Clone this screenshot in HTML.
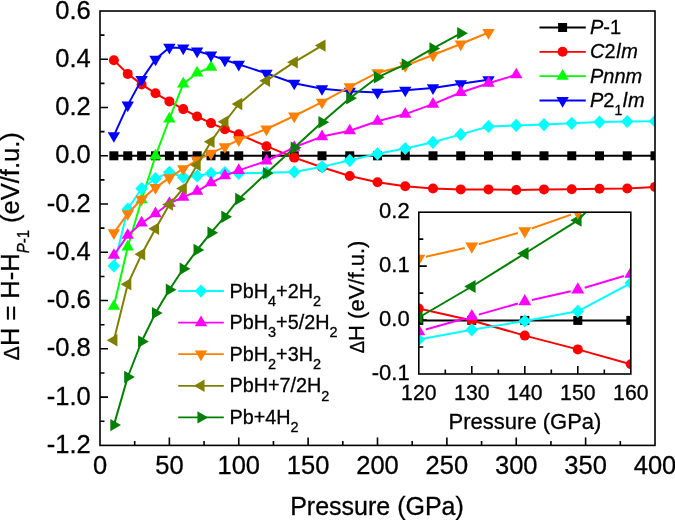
<!DOCTYPE html>
<html><head><meta charset="utf-8"><style>
html,body{margin:0;padding:0;background:#fff;width:675px;height:520px;overflow:hidden}
svg{display:block;will-change:transform;filter:blur(0.3px)}
text{font-family:"Liberation Sans",sans-serif;stroke:#000;stroke-width:0.3px}
</style></head><body>
<svg width="675" height="520" viewBox="0 0 675 520" font-family="Liberation Sans, sans-serif">
<rect width="675" height="520" fill="#fff"/>
<defs><clipPath id="cm"><rect x="100" y="11" width="555" height="434.4"/></clipPath><clipPath id="ci"><rect x="418.8" y="212.2" width="212" height="161.8"/></clipPath></defs>
<path d="M100 35.13h4.5M100 59.26h8M100 83.39h4.5M100 107.52h8M100 131.65h4.5M100 155.78h8M100 179.91h4.5M100 204.04h8M100 228.17h4.5M100 252.30h8M100 276.43h4.5M100 300.56h8M100 324.69h4.5M100 348.82h8M100 372.95h4.5M100 397.08h8M100 421.21h4.5M134.69 445.4v-4.5M169.38 445.4v-8M204.06 445.4v-4.5M238.75 445.4v-8M273.44 445.4v-4.5M308.12 445.4v-8M342.81 445.4v-4.5M377.50 445.4v-8M412.19 445.4v-4.5M446.88 445.4v-8M481.56 445.4v-4.5M516.25 445.4v-8M550.94 445.4v-4.5M585.62 445.4v-8M620.31 445.4v-4.5" stroke="#000" stroke-width="1.6" fill="none"/>
<g clip-path="url(#cm)">
<path d="M113.88 155.80L127.75 155.80L141.62 155.80L155.50 155.80L169.38 155.80L183.25 155.80L197.12 155.80L211.00 155.80L224.88 155.80L238.75 155.80L266.50 155.80L294.25 155.80L322.00 155.80L349.75 155.80L377.50 155.80L405.25 155.80L433.00 155.80L460.75 155.80L488.50 155.80L516.25 155.80L544.00 155.80L571.75 155.80L599.50 155.80L627.25 155.80L655.00 155.80" fill="none" stroke="#000000" stroke-width="2.0" stroke-linejoin="round"/>
<rect x="109.38" y="151.30" width="9.00" height="9.00" fill="#000000"/>
<rect x="123.25" y="151.30" width="9.00" height="9.00" fill="#000000"/>
<rect x="137.12" y="151.30" width="9.00" height="9.00" fill="#000000"/>
<rect x="151.00" y="151.30" width="9.00" height="9.00" fill="#000000"/>
<rect x="164.88" y="151.30" width="9.00" height="9.00" fill="#000000"/>
<rect x="178.75" y="151.30" width="9.00" height="9.00" fill="#000000"/>
<rect x="192.62" y="151.30" width="9.00" height="9.00" fill="#000000"/>
<rect x="206.50" y="151.30" width="9.00" height="9.00" fill="#000000"/>
<rect x="220.38" y="151.30" width="9.00" height="9.00" fill="#000000"/>
<rect x="234.25" y="151.30" width="9.00" height="9.00" fill="#000000"/>
<rect x="262.00" y="151.30" width="9.00" height="9.00" fill="#000000"/>
<rect x="289.75" y="151.30" width="9.00" height="9.00" fill="#000000"/>
<rect x="317.50" y="151.30" width="9.00" height="9.00" fill="#000000"/>
<rect x="345.25" y="151.30" width="9.00" height="9.00" fill="#000000"/>
<rect x="373.00" y="151.30" width="9.00" height="9.00" fill="#000000"/>
<rect x="400.75" y="151.30" width="9.00" height="9.00" fill="#000000"/>
<rect x="428.50" y="151.30" width="9.00" height="9.00" fill="#000000"/>
<rect x="456.25" y="151.30" width="9.00" height="9.00" fill="#000000"/>
<rect x="484.00" y="151.30" width="9.00" height="9.00" fill="#000000"/>
<rect x="511.75" y="151.30" width="9.00" height="9.00" fill="#000000"/>
<rect x="539.50" y="151.30" width="9.00" height="9.00" fill="#000000"/>
<rect x="567.25" y="151.30" width="9.00" height="9.00" fill="#000000"/>
<rect x="595.00" y="151.30" width="9.00" height="9.00" fill="#000000"/>
<rect x="622.75" y="151.30" width="9.00" height="9.00" fill="#000000"/>
<rect x="650.50" y="151.30" width="9.00" height="9.00" fill="#000000"/>
<path d="M113.88 60.20L127.75 73.90L141.62 84.40L155.50 93.30L169.38 101.40L183.25 109.10L197.12 116.50L211.00 123.10L224.88 129.20L238.75 134.20L266.50 146.20L294.25 157.60L322.00 167.30L349.75 176.00L377.50 182.30L405.25 186.20L433.00 188.50L460.75 189.40L488.50 189.40L516.25 190.00L544.00 189.40L571.75 189.20L599.50 188.80L627.25 188.50L655.00 186.90" fill="none" stroke="#ff0000" stroke-width="2.0" stroke-linejoin="round"/>
<circle cx="113.88" cy="60.20" r="5" fill="#ff0000"/>
<circle cx="127.75" cy="73.90" r="5" fill="#ff0000"/>
<circle cx="141.62" cy="84.40" r="5" fill="#ff0000"/>
<circle cx="155.50" cy="93.30" r="5" fill="#ff0000"/>
<circle cx="169.38" cy="101.40" r="5" fill="#ff0000"/>
<circle cx="183.25" cy="109.10" r="5" fill="#ff0000"/>
<circle cx="197.12" cy="116.50" r="5" fill="#ff0000"/>
<circle cx="211.00" cy="123.10" r="5" fill="#ff0000"/>
<circle cx="224.88" cy="129.20" r="5" fill="#ff0000"/>
<circle cx="238.75" cy="134.20" r="5" fill="#ff0000"/>
<circle cx="266.50" cy="146.20" r="5" fill="#ff0000"/>
<circle cx="294.25" cy="157.60" r="5" fill="#ff0000"/>
<circle cx="322.00" cy="167.30" r="5" fill="#ff0000"/>
<circle cx="349.75" cy="176.00" r="5" fill="#ff0000"/>
<circle cx="377.50" cy="182.30" r="5" fill="#ff0000"/>
<circle cx="405.25" cy="186.20" r="5" fill="#ff0000"/>
<circle cx="433.00" cy="188.50" r="5" fill="#ff0000"/>
<circle cx="460.75" cy="189.40" r="5" fill="#ff0000"/>
<circle cx="488.50" cy="189.40" r="5" fill="#ff0000"/>
<circle cx="516.25" cy="190.00" r="5" fill="#ff0000"/>
<circle cx="544.00" cy="189.40" r="5" fill="#ff0000"/>
<circle cx="571.75" cy="189.20" r="5" fill="#ff0000"/>
<circle cx="599.50" cy="188.80" r="5" fill="#ff0000"/>
<circle cx="627.25" cy="188.50" r="5" fill="#ff0000"/>
<circle cx="655.00" cy="186.90" r="5" fill="#ff0000"/>
<path d="M113.88 306.29L127.75 246.99L141.62 199.79L155.50 155.99L169.38 118.99L183.25 83.99L197.12 72.89L211.00 67.19" fill="none" stroke="#00ff00" stroke-width="2.0" stroke-linejoin="round"/>
<path d="M113.88 299.13L120.08 309.87L107.67 309.87Z" fill="#00ff00"/>
<path d="M127.75 239.83L133.95 250.57L121.55 250.57Z" fill="#00ff00"/>
<path d="M141.62 192.63L147.82 203.37L135.43 203.37Z" fill="#00ff00"/>
<path d="M155.50 148.83L161.70 159.57L149.30 159.57Z" fill="#00ff00"/>
<path d="M169.38 111.83L175.57 122.57L163.18 122.57Z" fill="#00ff00"/>
<path d="M183.25 76.83L189.45 87.57L177.05 87.57Z" fill="#00ff00"/>
<path d="M197.12 65.73L203.32 76.47L190.93 76.47Z" fill="#00ff00"/>
<path d="M211.00 60.03L217.20 70.77L204.80 70.77Z" fill="#00ff00"/>
<path d="M113.88 135.71L127.75 105.11L141.62 79.61L155.50 59.21L169.38 47.41L183.25 48.11L197.12 51.01L211.00 55.11L224.88 60.01L238.75 64.41L266.50 73.41L294.25 83.21L322.00 88.71L349.75 91.21L377.50 92.41L405.25 90.21L433.00 87.91L460.75 83.71L488.50 79.71" fill="none" stroke="#0000ff" stroke-width="2.0" stroke-linejoin="round"/>
<path d="M113.88 142.87L120.08 132.13L107.67 132.13Z" fill="#0000ff"/>
<path d="M127.75 112.27L133.95 101.53L121.55 101.53Z" fill="#0000ff"/>
<path d="M141.62 86.77L147.82 76.03L135.43 76.03Z" fill="#0000ff"/>
<path d="M155.50 66.37L161.70 55.63L149.30 55.63Z" fill="#0000ff"/>
<path d="M169.38 54.57L175.57 43.83L163.18 43.83Z" fill="#0000ff"/>
<path d="M183.25 55.27L189.45 44.53L177.05 44.53Z" fill="#0000ff"/>
<path d="M197.12 58.17L203.32 47.43L190.93 47.43Z" fill="#0000ff"/>
<path d="M211.00 62.27L217.20 51.53L204.80 51.53Z" fill="#0000ff"/>
<path d="M224.88 67.17L231.07 56.43L218.68 56.43Z" fill="#0000ff"/>
<path d="M238.75 71.57L244.95 60.83L232.55 60.83Z" fill="#0000ff"/>
<path d="M266.50 80.57L272.70 69.83L260.30 69.83Z" fill="#0000ff"/>
<path d="M294.25 90.37L300.45 79.63L288.05 79.63Z" fill="#0000ff"/>
<path d="M322.00 95.87L328.20 85.13L315.80 85.13Z" fill="#0000ff"/>
<path d="M349.75 98.37L355.95 87.63L343.55 87.63Z" fill="#0000ff"/>
<path d="M377.50 99.57L383.70 88.83L371.30 88.83Z" fill="#0000ff"/>
<path d="M405.25 97.37L411.45 86.63L399.05 86.63Z" fill="#0000ff"/>
<path d="M433.00 95.07L439.20 84.33L426.80 84.33Z" fill="#0000ff"/>
<path d="M460.75 90.87L466.95 80.13L454.55 80.13Z" fill="#0000ff"/>
<path d="M488.50 86.87L494.70 76.13L482.30 76.13Z" fill="#0000ff"/>
<path d="M113.88 265.90L127.75 209.20L141.62 188.50L155.50 178.70L169.38 172.30L183.25 177.20L197.12 176.00L211.00 173.30L224.88 172.70L238.75 173.30L266.50 172.70L294.25 172.00L322.00 166.80L349.75 160.40L377.50 153.80L405.25 148.50L433.00 142.30L460.75 134.40L488.50 126.50L516.25 125.40L544.00 124.60L571.75 123.30L599.50 122.10L627.25 121.50L655.00 121.20" fill="none" stroke="#00ffff" stroke-width="2.0" stroke-linejoin="round"/>
<path d="M113.88 259.30L120.17 265.90L113.88 272.50L107.58 265.90Z" fill="#00ffff"/>
<path d="M127.75 202.60L134.05 209.20L127.75 215.80L121.45 209.20Z" fill="#00ffff"/>
<path d="M141.62 181.90L147.93 188.50L141.62 195.10L135.32 188.50Z" fill="#00ffff"/>
<path d="M155.50 172.10L161.80 178.70L155.50 185.30L149.20 178.70Z" fill="#00ffff"/>
<path d="M169.38 165.70L175.68 172.30L169.38 178.90L163.07 172.30Z" fill="#00ffff"/>
<path d="M183.25 170.60L189.55 177.20L183.25 183.80L176.95 177.20Z" fill="#00ffff"/>
<path d="M197.12 169.40L203.43 176.00L197.12 182.60L190.82 176.00Z" fill="#00ffff"/>
<path d="M211.00 166.70L217.30 173.30L211.00 179.90L204.70 173.30Z" fill="#00ffff"/>
<path d="M224.88 166.10L231.18 172.70L224.88 179.30L218.57 172.70Z" fill="#00ffff"/>
<path d="M238.75 166.70L245.05 173.30L238.75 179.90L232.45 173.30Z" fill="#00ffff"/>
<path d="M266.50 166.10L272.80 172.70L266.50 179.30L260.20 172.70Z" fill="#00ffff"/>
<path d="M294.25 165.40L300.55 172.00L294.25 178.60L287.95 172.00Z" fill="#00ffff"/>
<path d="M322.00 160.20L328.30 166.80L322.00 173.40L315.70 166.80Z" fill="#00ffff"/>
<path d="M349.75 153.80L356.05 160.40L349.75 167.00L343.45 160.40Z" fill="#00ffff"/>
<path d="M377.50 147.20L383.80 153.80L377.50 160.40L371.20 153.80Z" fill="#00ffff"/>
<path d="M405.25 141.90L411.55 148.50L405.25 155.10L398.95 148.50Z" fill="#00ffff"/>
<path d="M433.00 135.70L439.30 142.30L433.00 148.90L426.70 142.30Z" fill="#00ffff"/>
<path d="M460.75 127.80L467.05 134.40L460.75 141.00L454.45 134.40Z" fill="#00ffff"/>
<path d="M488.50 119.90L494.80 126.50L488.50 133.10L482.20 126.50Z" fill="#00ffff"/>
<path d="M516.25 118.80L522.55 125.40L516.25 132.00L509.95 125.40Z" fill="#00ffff"/>
<path d="M544.00 118.00L550.30 124.60L544.00 131.20L537.70 124.60Z" fill="#00ffff"/>
<path d="M571.75 116.70L578.05 123.30L571.75 129.90L565.45 123.30Z" fill="#00ffff"/>
<path d="M599.50 115.50L605.80 122.10L599.50 128.70L593.20 122.10Z" fill="#00ffff"/>
<path d="M627.25 114.90L633.55 121.50L627.25 128.10L620.95 121.50Z" fill="#00ffff"/>
<path d="M655.00 114.60L661.30 121.20L655.00 127.80L648.70 121.20Z" fill="#00ffff"/>
<path d="M113.88 255.29L127.75 235.29L141.62 222.99L155.50 213.69L169.38 203.29L183.25 197.09L197.12 191.29L211.00 182.79L224.88 175.79L238.75 170.39L266.50 160.99L294.25 147.29L322.00 136.59L349.75 130.79L377.50 121.29L405.25 114.09L433.00 104.09L460.75 92.49L488.50 83.29L516.25 74.79" fill="none" stroke="#ff00ff" stroke-width="2.0" stroke-linejoin="round"/>
<path d="M113.88 248.13L120.08 258.87L107.67 258.87Z" fill="#ff00ff"/>
<path d="M127.75 228.13L133.95 238.87L121.55 238.87Z" fill="#ff00ff"/>
<path d="M141.62 215.83L147.82 226.57L135.43 226.57Z" fill="#ff00ff"/>
<path d="M155.50 206.53L161.70 217.27L149.30 217.27Z" fill="#ff00ff"/>
<path d="M169.38 196.13L175.57 206.87L163.18 206.87Z" fill="#ff00ff"/>
<path d="M183.25 189.93L189.45 200.67L177.05 200.67Z" fill="#ff00ff"/>
<path d="M197.12 184.13L203.32 194.87L190.93 194.87Z" fill="#ff00ff"/>
<path d="M211.00 175.63L217.20 186.37L204.80 186.37Z" fill="#ff00ff"/>
<path d="M224.88 168.63L231.07 179.37L218.68 179.37Z" fill="#ff00ff"/>
<path d="M238.75 163.23L244.95 173.97L232.55 173.97Z" fill="#ff00ff"/>
<path d="M266.50 153.83L272.70 164.57L260.30 164.57Z" fill="#ff00ff"/>
<path d="M294.25 140.13L300.45 150.87L288.05 150.87Z" fill="#ff00ff"/>
<path d="M322.00 129.43L328.20 140.17L315.80 140.17Z" fill="#ff00ff"/>
<path d="M349.75 123.63L355.95 134.37L343.55 134.37Z" fill="#ff00ff"/>
<path d="M377.50 114.13L383.70 124.87L371.30 124.87Z" fill="#ff00ff"/>
<path d="M405.25 106.93L411.45 117.67L399.05 117.67Z" fill="#ff00ff"/>
<path d="M433.00 96.93L439.20 107.67L426.80 107.67Z" fill="#ff00ff"/>
<path d="M460.75 85.33L466.95 96.07L454.55 96.07Z" fill="#ff00ff"/>
<path d="M488.50 76.13L494.70 86.87L482.30 86.87Z" fill="#ff00ff"/>
<path d="M516.25 67.63L522.45 78.37L510.05 78.37Z" fill="#ff00ff"/>
<path d="M113.88 232.91L127.75 213.71L141.62 199.21L155.50 187.61L169.38 177.81L183.25 168.71L197.12 160.01L211.00 153.41L224.88 146.71L238.75 139.91L266.50 129.01L294.25 116.01L322.00 102.21L349.75 86.91L377.50 72.71L405.25 65.71L433.00 55.01L460.75 44.01L488.50 32.51" fill="none" stroke="#ff8000" stroke-width="2.0" stroke-linejoin="round"/>
<path d="M113.88 240.07L120.08 229.33L107.67 229.33Z" fill="#ff8000"/>
<path d="M127.75 220.87L133.95 210.13L121.55 210.13Z" fill="#ff8000"/>
<path d="M141.62 206.37L147.82 195.63L135.43 195.63Z" fill="#ff8000"/>
<path d="M155.50 194.77L161.70 184.03L149.30 184.03Z" fill="#ff8000"/>
<path d="M169.38 184.97L175.57 174.23L163.18 174.23Z" fill="#ff8000"/>
<path d="M183.25 175.87L189.45 165.13L177.05 165.13Z" fill="#ff8000"/>
<path d="M197.12 167.17L203.32 156.43L190.93 156.43Z" fill="#ff8000"/>
<path d="M211.00 160.57L217.20 149.83L204.80 149.83Z" fill="#ff8000"/>
<path d="M224.88 153.87L231.07 143.13L218.68 143.13Z" fill="#ff8000"/>
<path d="M238.75 147.07L244.95 136.33L232.55 136.33Z" fill="#ff8000"/>
<path d="M266.50 136.17L272.70 125.43L260.30 125.43Z" fill="#ff8000"/>
<path d="M294.25 123.17L300.45 112.43L288.05 112.43Z" fill="#ff8000"/>
<path d="M322.00 109.37L328.20 98.63L315.80 98.63Z" fill="#ff8000"/>
<path d="M349.75 94.07L355.95 83.33L343.55 83.33Z" fill="#ff8000"/>
<path d="M377.50 79.87L383.70 69.13L371.30 69.13Z" fill="#ff8000"/>
<path d="M405.25 72.87L411.45 62.13L399.05 62.13Z" fill="#ff8000"/>
<path d="M433.00 62.17L439.20 51.43L426.80 51.43Z" fill="#ff8000"/>
<path d="M460.75 51.17L466.95 40.43L454.55 40.43Z" fill="#ff8000"/>
<path d="M488.50 39.67L494.70 28.93L482.30 28.93Z" fill="#ff8000"/>
<path d="M113.88 340.20L127.75 284.20L141.62 254.30L155.50 228.80L169.38 204.50L183.25 188.50L197.12 165.00L211.00 141.80L224.88 121.80L238.75 104.00L266.50 80.70L294.25 62.20L322.00 45.60" fill="none" stroke="#808000" stroke-width="2.0" stroke-linejoin="round"/>
<path d="M106.72 340.20L117.45 334.00L117.45 346.40Z" fill="#808000"/>
<path d="M120.59 284.20L131.33 278.00L131.33 290.40Z" fill="#808000"/>
<path d="M134.47 254.30L145.20 248.10L145.20 260.50Z" fill="#808000"/>
<path d="M148.34 228.80L159.08 222.60L159.08 235.00Z" fill="#808000"/>
<path d="M162.22 204.50L172.95 198.30L172.95 210.70Z" fill="#808000"/>
<path d="M176.09 188.50L186.83 182.30L186.83 194.70Z" fill="#808000"/>
<path d="M189.97 165.00L200.70 158.80L200.70 171.20Z" fill="#808000"/>
<path d="M203.84 141.80L214.58 135.60L214.58 148.00Z" fill="#808000"/>
<path d="M217.72 121.80L228.45 115.60L228.45 128.00Z" fill="#808000"/>
<path d="M231.59 104.00L242.33 97.80L242.33 110.20Z" fill="#808000"/>
<path d="M259.34 80.70L270.08 74.50L270.08 86.90Z" fill="#808000"/>
<path d="M287.09 62.20L297.83 56.00L297.83 68.40Z" fill="#808000"/>
<path d="M314.84 45.60L325.58 39.40L325.58 51.80Z" fill="#808000"/>
<path d="M113.88 425.10L127.75 377.00L141.62 341.50L155.50 313.10L169.38 289.70L183.25 268.80L197.12 250.00L211.00 232.70L224.88 216.70L238.75 199.00L266.50 173.30L294.25 147.80L322.00 122.30L349.75 98.30L377.50 77.30L405.25 64.40L433.00 48.40L460.75 33.30" fill="none" stroke="#008000" stroke-width="2.0" stroke-linejoin="round"/>
<path d="M121.03 425.10L110.30 418.90L110.30 431.30Z" fill="#008000"/>
<path d="M134.91 377.00L124.17 370.80L124.17 383.20Z" fill="#008000"/>
<path d="M148.78 341.50L138.05 335.30L138.05 347.70Z" fill="#008000"/>
<path d="M162.66 313.10L151.92 306.90L151.92 319.30Z" fill="#008000"/>
<path d="M176.53 289.70L165.80 283.50L165.80 295.90Z" fill="#008000"/>
<path d="M190.41 268.80L179.67 262.60L179.67 275.00Z" fill="#008000"/>
<path d="M204.28 250.00L193.55 243.80L193.55 256.20Z" fill="#008000"/>
<path d="M218.16 232.70L207.42 226.50L207.42 238.90Z" fill="#008000"/>
<path d="M232.03 216.70L221.30 210.50L221.30 222.90Z" fill="#008000"/>
<path d="M245.91 199.00L235.17 192.80L235.17 205.20Z" fill="#008000"/>
<path d="M273.66 173.30L262.92 167.10L262.92 179.50Z" fill="#008000"/>
<path d="M301.41 147.80L290.67 141.60L290.67 154.00Z" fill="#008000"/>
<path d="M329.16 122.30L318.42 116.10L318.42 128.50Z" fill="#008000"/>
<path d="M356.91 98.30L346.17 92.10L346.17 104.50Z" fill="#008000"/>
<path d="M384.66 77.30L373.92 71.10L373.92 83.50Z" fill="#008000"/>
<path d="M412.41 64.40L401.67 58.20L401.67 70.60Z" fill="#008000"/>
<path d="M440.16 48.40L429.42 42.20L429.42 54.60Z" fill="#008000"/>
<path d="M467.91 33.30L457.17 27.10L457.17 39.50Z" fill="#008000"/>
</g>
<rect x="100" y="11" width="555" height="434.4" fill="none" stroke="#000" stroke-width="1.6"/>
<text transform="translate(90.80 18.50) scale(1 1.04)" font-size="25.5" text-anchor="end">0.6</text>
<text transform="translate(90.80 66.76) scale(1 1.04)" font-size="25.5" text-anchor="end">0.4</text>
<text transform="translate(90.80 115.02) scale(1 1.04)" font-size="25.5" text-anchor="end">0.2</text>
<text transform="translate(90.80 163.28) scale(1 1.04)" font-size="25.5" text-anchor="end">0.0</text>
<text transform="translate(90.80 211.54) scale(1 1.04)" font-size="25.5" text-anchor="end">-0.2</text>
<text transform="translate(90.80 259.80) scale(1 1.04)" font-size="25.5" text-anchor="end">-0.4</text>
<text transform="translate(90.80 308.06) scale(1 1.04)" font-size="25.5" text-anchor="end">-0.6</text>
<text transform="translate(90.80 356.32) scale(1 1.04)" font-size="25.5" text-anchor="end">-0.8</text>
<text transform="translate(90.80 404.58) scale(1 1.04)" font-size="25.5" text-anchor="end">-1.0</text>
<text transform="translate(90.80 452.84) scale(1 1.04)" font-size="25.5" text-anchor="end">-1.2</text>
<text transform="translate(100.00 474.30) scale(1 1.04)" font-size="25.5" text-anchor="middle">0</text>
<text transform="translate(169.38 474.30) scale(1 1.04)" font-size="25.5" text-anchor="middle">50</text>
<text transform="translate(238.75 474.30) scale(1 1.04)" font-size="25.5" text-anchor="middle">100</text>
<text transform="translate(308.12 474.30) scale(1 1.04)" font-size="25.5" text-anchor="middle">150</text>
<text transform="translate(377.50 474.30) scale(1 1.04)" font-size="25.5" text-anchor="middle">200</text>
<text transform="translate(446.88 474.30) scale(1 1.04)" font-size="25.5" text-anchor="middle">250</text>
<text transform="translate(516.25 474.30) scale(1 1.04)" font-size="25.5" text-anchor="middle">300</text>
<text transform="translate(585.62 474.30) scale(1 1.04)" font-size="25.5" text-anchor="middle">350</text>
<text transform="translate(655.00 474.30) scale(1 1.04)" font-size="25.5" text-anchor="middle">400</text>
<text transform="translate(377.00 514.60) scale(1 1.04)" font-size="25" text-anchor="middle">Pressure (GPa)</text>
<text transform="translate(18.5 360.4) rotate(-90) scale(1 1.04)" font-size="25.5"><tspan font-size="21.4">&#916;</tspan>H = H-H<tspan font-size="15" dy="9.8" font-style="italic">P</tspan><tspan font-size="15">-1</tspan><tspan dy="-9.8"> (eV/f.u.)</tspan></text>
<path d="M539.5 27.5H585.8" stroke="#000000" stroke-width="1.8"/>
<rect x="558.10" y="23.00" width="9.00" height="9.00" fill="#000000"/>
<text transform="translate(590.00 34.00) scale(1 1.04)" font-size="20"><tspan font-style="italic">P</tspan>-1</text>
<path d="M539.5 51.8H585.8" stroke="#ff0000" stroke-width="1.8"/>
<circle cx="562.60" cy="51.80" r="5" fill="#ff0000"/>
<text transform="translate(590.00 58.30) scale(1 1.04)" font-size="20"><tspan font-style="italic">C</tspan>2<tspan font-style="italic" dx="0.6">l</tspan><tspan font-style="italic" dx="0.6">m</tspan></text>
<path d="M539.5 76.2H585.8" stroke="#00ff00" stroke-width="1.8"/>
<path d="M562.60 69.04L568.80 79.78L556.40 79.78Z" fill="#00ff00"/>
<text transform="translate(590.00 82.70) scale(1 1.04)" font-size="20"><tspan font-style="italic">Pnnm</tspan></text>
<path d="M539.5 100.5H585.8" stroke="#0000ff" stroke-width="1.8"/>
<path d="M562.60 107.66L568.80 96.92L556.40 96.92Z" fill="#0000ff"/>
<text transform="translate(590.00 107.00) scale(1 1.04)" font-size="20"><tspan font-style="italic">P</tspan>2<tspan font-size="14" dy="7.3">1</tspan><tspan dy="-7.3" dx="0.6" font-style="italic">l</tspan><tspan font-style="italic" dx="0.6">m</tspan></text>
<path d="M178.2 291H223.8" stroke="#00ffff" stroke-width="1.8"/>
<path d="M201.00 284.40L207.30 291.00L201.00 297.60L194.70 291.00Z" fill="#00ffff"/>
<text transform="translate(229.50 297.60) scale(1 1.04)" font-size="19.8">PbH<tspan font-size="14.5" dy="7.9">4</tspan><tspan dy="-7.9">+2H</tspan><tspan font-size="14.5" dy="7.9">2</tspan><tspan dy="-7.9"></tspan></text>
<path d="M178.2 322.6H223.8" stroke="#ff00ff" stroke-width="1.8"/>
<path d="M201.00 315.44L207.20 326.18L194.80 326.18Z" fill="#ff00ff"/>
<text transform="translate(229.50 329.20) scale(1 1.04)" font-size="19.8">PbH<tspan font-size="14.5" dy="7.9">3</tspan><tspan dy="-7.9">+5/2H</tspan><tspan font-size="14.5" dy="7.9">2</tspan><tspan dy="-7.9"></tspan></text>
<path d="M178.2 354.2H223.8" stroke="#ff8000" stroke-width="1.8"/>
<path d="M201.00 361.36L207.20 350.62L194.80 350.62Z" fill="#ff8000"/>
<text transform="translate(229.50 360.80) scale(1 1.04)" font-size="19.8">PbH<tspan font-size="14.5" dy="7.9">2</tspan><tspan dy="-7.9">+3H</tspan><tspan font-size="14.5" dy="7.9">2</tspan><tspan dy="-7.9"></tspan></text>
<path d="M178.2 385.8H223.8" stroke="#808000" stroke-width="1.8"/>
<path d="M193.84 385.80L204.58 379.60L204.58 392.00Z" fill="#808000"/>
<text transform="translate(229.50 392.40) scale(1 1.04)" font-size="19.8">PbH+7/2H<tspan font-size="14.5" dy="7.9">2</tspan><tspan dy="-7.9"></tspan></text>
<path d="M178.2 417.4H223.8" stroke="#008000" stroke-width="1.8"/>
<path d="M208.16 417.40L197.42 411.20L197.42 423.60Z" fill="#008000"/>
<text transform="translate(229.50 424.00) scale(1 1.04)" font-size="19.8">Pb+4H<tspan font-size="14.5" dy="7.9">2</tspan><tspan dy="-7.9"></tspan></text>
<rect x="418.8" y="212.2" width="212" height="161.8" fill="#fff"/>
<path d="M418.8 239.16h4.5M418.8 266.13h8M418.8 293.10h4.5M418.8 320.06h8M418.8 347.02h4.5M445.30 374v-4.5M471.80 374v-8M498.30 374v-4.5M524.80 374v-8M551.30 374v-4.5M577.80 374v-8M604.30 374v-4.5" stroke="#000" stroke-width="1.6" fill="none"/>
<g clip-path="url(#ci)">
<path d="M418.80 320.40L471.80 320.40L524.80 320.40L577.80 320.40L630.80 320.40" fill="none" stroke="#000000" stroke-width="2.0" stroke-linejoin="round"/>
<rect x="414.30" y="315.90" width="9.00" height="9.00" fill="#000000"/>
<rect x="467.30" y="315.90" width="9.00" height="9.00" fill="#000000"/>
<rect x="520.30" y="315.90" width="9.00" height="9.00" fill="#000000"/>
<rect x="573.30" y="315.90" width="9.00" height="9.00" fill="#000000"/>
<rect x="626.30" y="315.90" width="9.00" height="9.00" fill="#000000"/>
<path d="M418.80 308.50L471.80 320.50L524.80 335.60L577.80 349.40L630.80 364.20" fill="none" stroke="#ff0000" stroke-width="2.0" stroke-linejoin="round"/>
<circle cx="418.80" cy="308.50" r="5" fill="#ff0000"/>
<circle cx="471.80" cy="320.50" r="5" fill="#ff0000"/>
<circle cx="524.80" cy="335.60" r="5" fill="#ff0000"/>
<circle cx="577.80" cy="349.40" r="5" fill="#ff0000"/>
<circle cx="630.80" cy="364.20" r="5" fill="#ff0000"/>
<path d="M418.80 339.50L471.80 329.80L524.80 321.00L577.80 311.30L630.80 283.10" fill="none" stroke="#00ffff" stroke-width="2.0" stroke-linejoin="round"/>
<path d="M418.80 332.90L425.10 339.50L418.80 346.10L412.50 339.50Z" fill="#00ffff"/>
<path d="M471.80 323.20L478.10 329.80L471.80 336.40L465.50 329.80Z" fill="#00ffff"/>
<path d="M524.80 314.40L531.10 321.00L524.80 327.60L518.50 321.00Z" fill="#00ffff"/>
<path d="M577.80 304.70L584.10 311.30L577.80 317.90L571.50 311.30Z" fill="#00ffff"/>
<path d="M630.80 276.50L637.10 283.10L630.80 289.70L624.50 283.10Z" fill="#00ffff"/>
<path d="M425.73 329.45L464.87 318.53M478.73 314.63L517.87 303.55M531.83 300.03L570.77 291.35M584.70 287.72L623.90 275.96" fill="none" stroke="#ff00ff" stroke-width="2.0" stroke-linejoin="round"/>
<path d="M418.80 323.88L425.30 335.14L412.30 335.14Z" fill="#ff00ff"/>
<path d="M471.80 309.08L478.30 320.34L465.30 320.34Z" fill="#ff00ff"/>
<path d="M524.80 294.08L531.30 305.34L518.30 305.34Z" fill="#ff00ff"/>
<path d="M577.80 282.28L584.30 293.54L571.30 293.54Z" fill="#ff00ff"/>
<path d="M630.80 266.38L637.30 277.64L624.30 277.64Z" fill="#ff00ff"/>
<path d="M418.80 317.50L471.80 286.50L524.80 253.50L577.80 220.30L630.80 167.00" fill="none" stroke="#008000" stroke-width="2.0" stroke-linejoin="round"/>
<path d="M411.29 317.50L422.55 311.00L422.55 324.00Z" fill="#008000"/>
<path d="M464.29 286.50L475.55 280.00L475.55 293.00Z" fill="#008000"/>
<path d="M517.29 253.50L528.55 247.00L528.55 260.00Z" fill="#008000"/>
<path d="M570.29 220.30L581.55 213.80L581.55 226.80Z" fill="#008000"/>
<path d="M623.29 167.00L634.55 160.50L634.55 173.50Z" fill="#008000"/>
<path d="M425.82 256.81L464.78 247.91M478.71 244.30L517.89 232.92M531.59 228.51L571.01 214.61" fill="none" stroke="#ff8000" stroke-width="2.0" stroke-linejoin="round"/>
<path d="M418.80 265.92L425.30 254.66L412.30 254.66Z" fill="#ff8000"/>
<path d="M471.80 253.82L478.30 242.56L465.30 242.56Z" fill="#ff8000"/>
<path d="M524.80 238.42L531.30 227.16L518.30 227.16Z" fill="#ff8000"/>
<path d="M577.80 219.72L584.30 208.46L571.30 208.46Z" fill="#ff8000"/>
</g>
<rect x="418.8" y="212.2" width="212" height="161.8" fill="none" stroke="#000" stroke-width="1.6"/>
<text transform="translate(409.70 218.10) scale(1 1.0)" font-size="22" text-anchor="end">0.2</text>
<text transform="translate(409.70 272.03) scale(1 1.0)" font-size="22" text-anchor="end">0.1</text>
<text transform="translate(409.70 325.96) scale(1 1.0)" font-size="22" text-anchor="end">0.0</text>
<text transform="translate(409.70 379.89) scale(1 1.0)" font-size="22" text-anchor="end">-0.1</text>
<text transform="translate(418.80 399.90) scale(1 1.03)" font-size="21.2" text-anchor="middle">120</text>
<text transform="translate(471.80 399.90) scale(1 1.03)" font-size="21.2" text-anchor="middle">130</text>
<text transform="translate(524.80 399.90) scale(1 1.03)" font-size="21.2" text-anchor="middle">140</text>
<text transform="translate(577.80 399.90) scale(1 1.03)" font-size="21.2" text-anchor="middle">150</text>
<text transform="translate(630.80 399.90) scale(1 1.03)" font-size="21.2" text-anchor="middle">160</text>
<text transform="translate(525.00 428.80) scale(1 1.04)" font-size="22" text-anchor="middle">Pressure (GPa)</text>
<text transform="translate(363.8 353.3) rotate(-90) scale(1 1.04)" font-size="22"><tspan font-size="18.6">&#916;</tspan>H (eV/f.u.)</text>
</svg>
</body></html>
